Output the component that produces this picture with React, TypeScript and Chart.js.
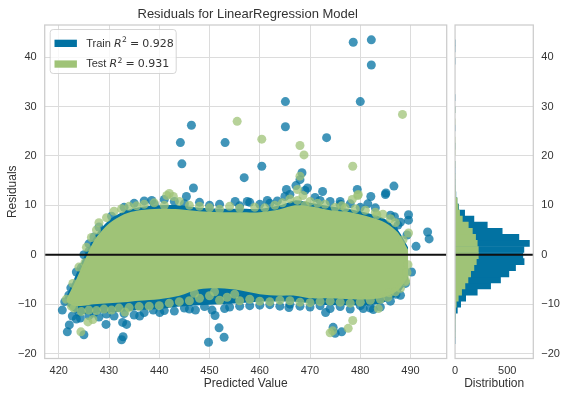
import React, { useEffect, useRef } from 'react';
import { Chart, registerables } from 'chart.js';

Chart.register(...registerables);

// ---------- text ----------
const TITLE = 'Residuals for LinearRegression Model';
const X_LABEL = 'Predicted Value';
const Y_LABEL = 'Residuals';
const HIST_LABEL = 'Distribution';
const TRAIN_LABEL = 'Train';
const TEST_LABEL = 'Test';
const TRAIN_R2 = '0.928';
const TEST_R2 = '0.931';

// ---------- axis ranges and ticks ----------
const X_MIN = 417.2;
const X_MAX = 497.2;
const Y_MIN = -21.0;
const Y_MAX = 46.5;
const HIST_MAX = 750;
const xTicks = [420, 430, 440, 450, 460, 470, 480, 490];
const yTicks = [-20, -10, 0, 10, 20, 30, 40];
const histTicks = [0, 500];

// ---------- dense cloud envelopes ----------
const bandX = [421.5, 423, 425, 427, 430, 433, 436, 440, 444, 448, 452, 456, 460, 464, 467, 470, 474, 478, 482, 485, 487.5, 489.5];
const trainUpper = [-8.5, -5.0, -0.5, 3.5, 7.0, 8.8, 9.6, 10.0, 10.0, 9.5, 9.3, 9.3, 9.3, 10.0, 11.0, 10.5, 9.8, 9.2, 8.3, 7.2, 5.0, 1.5];
const trainLower = [-10.0, -11.5, -12.0, -11.8, -11.7, -11.5, -11.2, -11.0, -10.5, -10.2, -10.0, -9.8, -9.5, -9.5, -9.5, -9.8, -10.2, -10.2, -10.2, -9.5, -8.0, -5.0];
const testUpper = [-9.0, -6.0, -1.5, 2.8, 6.3, 8.2, 9.0, 9.3, 9.2, 8.8, 8.6, 8.6, 8.6, 9.2, 10.0, 9.8, 9.0, 8.6, 7.6, 6.5, 4.5, 1.0];
const testLower = [-9.5, -10.3, -10.3, -10.0, -9.8, -9.6, -9.3, -9.0, -8.3, -7.0, -6.8, -7.2, -8.0, -8.3, -8.3, -8.8, -8.8, -9.0, -9.0, -8.5, -7.2, -4.5];

// ---------- individual points (predicted value, residual) ----------
const trainPoints: [number, number][] = [
  [478.6, 43.0], [482.2, 43.5], [482.2, 38.4], [465.1, 31.0], [480.0, 31.0], [465.1, 25.9], [473.3, 23.7],
  [446.4, 26.2], [444.2, 22.7], [453.1, 22.7], [444.5, 18.4], [446.8, 13.5], [456.9, 15.6], [460.4, 17.9],
  [472.5, 12.8], [468.4, 16.6], [468.0, 15.2], [467.2, 14.0], [469.5, 13.5], [479.4, 13.2], [482.1, 11.8],
  [485.0, 12.2], [486.7, 13.9], [489.6, 8.1], [489.6, 7.0], [493.4, 4.6], [493.7, 3.2], [491.1, 1.7],
  [486.8, 7.7], [486.6, 5.1], [445.4, 11.8], [438.5, 11.0], [455.1, 10.8], [465.3, 13.2], [476.0, 10.8], [485.1, 12.5],
  [435, 10.4], [437, 10.9], [441, 11.2], [448, 10.6], [452, 10.2], [458, 10.6], [462, 10.4], [466, 12.2],
  [471, 11.6], [474, 10.8], [478, 10.3], [483, 9.5], [488, 6.6], [430.5, 7.8], [428, 5.6], [426, 2.2],
  [433, 9.6], [439, 10.2], [443, 10.8], [445, 10.3], [450, 10.0], [456, 9.9], [457.5, 10.8], [460, 10.2],
  [461.5, 11.0], [463.5, 10.9], [465, 11.8], [469, 13.0], [472, 11.0], [476, 10.2], [480, 9.6], [481.5, 10.3],
  [486, 8.0], [487.5, 6.0], [489.3, 4.0], [429, 4.8], [427, 3.6], [425, 0.0], [423.5, -3.5],
  [420.7, -11.2], [421.7, -15.6], [422.1, -14.2], [422.7, -12.4], [425.0, -16.2], [429.4, -14.1], [432.7, -13.7],
  [433.5, -14.1], [432.8, -16.6], [432.5, -17.2], [436.1, -12.4], [440.1, -11.7], [438.8, -11.2], [449.8, -17.7],
  [451.1, -12.3], [451.9, -14.8], [452.9, -16.7], [447.2, -11.2], [465.8, -10.7], [470.3, -9.4], [473.1, -11.7],
  [474.6, -14.7], [476.3, -15.6], [475.0, -15.9], [480.6, -10.9], [482.6, -11.1], [487.1, -8.0], [422.4, -6.7],
  [424.5, -2.6], [426.0, 0.7], [424.3, -12.8], [423.5, -13.0],
  [426, -12.3], [428, -12.6], [431, -12.4], [435, -12.2], [443, -11.4], [446, -11.0], [454, -10.6], [458, -10.3],
  [462, -10.1], [468, -10.4], [478, -11.0], [484, -10.6], [489, -5.8], [490.2, -3.5],
  [424, -11.6], [427, -11.8], [429.5, -12.0], [433, -11.9], [437, -11.7], [441, -11.3], [445, -10.8], [449, -10.5],
  [450.5, -11.2], [453, -10.9], [456, -10.4], [460, -10.2], [464, -10.4], [466, -10.0], [470, -10.6], [472, -10.3],
  [474, -10.9], [476, -10.5], [480, -10.3], [482, -10.8], [486, -9.4], [488, -8.2], [421.2, -9.5], [422, -8.2],
];
const testPoints: [number, number][] = [
  [488.4, 28.4], [468.0, 22.1], [468.8, 20.2], [455.5, 27.0], [460.4, 23.4], [478.5, 17.9], [479.5, 12.0],
  [478.4, 11.2], [441.5, 12.0], [442.8, 11.8], [442.0, 12.4], [476.3, 9.9], [479.6, 12.2], [489.6, 4.4],
  [489.3, -3.6], [489.0, -5.2], [485.8, -7.7], [483.6, -10.9], [478.5, -13.3], [477.6, -14.9], [474.0, -15.8],
  [474.5, -15.4], [424.4, -15.6], [425.8, -13.6], [426.8, -13.1], [421.5, -9.0], [422.5, -10.4], [433.2, -11.6],
  [425.2, -1.6], [468.0, 15.9], [483.3, 8.1], [467.5, 13.2], [468.6, 12.0],
  [431, 8.8], [434, 9.8], [437, 10.2], [439, 10.5], [446, 10.0], [450, 9.5], [454, 9.8], [459, 9.6], [463, 10.0],
  [466, 11.3], [470, 10.8], [473, 10.2], [477, 9.5], [481, 9.0], [484.5, 8.2], [487, 6.5], [488.5, 3.0], [428, 6.5], [426.5, 3.5],
  [432.5, 9.3], [435.5, 9.9], [441, 10.0], [444, 10.8], [448, 9.8], [452, 9.2], [456, 9.4], [461, 9.5],
  [464.5, 10.5], [467.5, 11.0], [469, 10.0], [471.5, 10.4], [475, 9.6], [479, 9.3], [483, 8.6], [486, 7.3],
  [429.5, 7.5], [427.5, 5.0], [425.5, 1.5], [424, -2.5], [422.8, -5.8],
  [423, -10.8], [426, -11.2], [429, -11.0], [432, -10.8], [436, -10.5], [440, -10.3], [444, -9.5], [448, -8.8],
  [452, -9.2], [456, -9.3], [460, -9.4], [464, -9.2], [468, -9.6], [472, -9.5], [476, -9.6], [480, -9.6],
  [484, -9.0], [487, -7.5], [489, -5.5], [451, -7.5], [447, -7.8], [455, -8.0],
  [424.5, -11.5], [427.5, -11.3], [430.5, -11.2], [434, -10.7], [438, -10.4], [442, -9.8], [446, -9.3], [450, -8.3],
  [453.5, -8.6], [458, -9.0], [462, -9.5], [466, -9.3], [470, -9.7], [474, -9.4], [478, -9.8], [482, -9.2],
  [485.5, -8.6], [488, -6.8], [489.5, -2.0],
];

// ---------- histogram (bin centres, counts) ----------
const binCenters = [
  -17.39, -16.16, -14.93, -13.70, -12.47, -11.24, -10.01, -8.78, -7.55, -6.32,
  -5.09, -3.86, -2.63, -1.40, -0.17, 1.06, 2.29, 3.52, 4.75, 5.98,
  7.21, 8.44, 9.67, 10.90, 12.13, 13.36, 14.59, 15.82, 17.05, 18.28,
  19.51, 20.74, 21.97, 23.20, 24.43, 25.66, 26.89, 28.12, 29.35, 30.58,
  31.81, 33.04, 34.27, 35.50, 36.73, 37.96, 39.19, 40.42, 41.65, 42.88,
];
const trainCounts = [
  2, 2, 3, 3, 6, 22, 54, 102, 213, 341,
  436, 516, 580, 662, 650, 660, 713, 612, 452, 309,
  181, 92, 35, 18, 8, 4, 2, 1, 1, 1,
  0, 0, 1, 0, 0, 1, 0, 0, 1, 0,
  1, 0, 0, 0, 0, 0, 1, 0, 1, 2,
];
const testCounts = [
  0, 1, 1, 2, 2, 4, 12, 31, 63, 95,
  124, 150, 181, 204, 223, 223, 213, 197, 166, 127,
  70, 44, 30, 20, 6, 3, 1, 1, 0, 1,
  0, 1, 1, 1, 0, 0, 1, 0, 1, 0,
  0, 0, 0, 0, 0, 0, 0, 0, 0, 0,
];

// ---------- style ----------
const BLUE = '#0272a2';
const GREEN = '#9fc377';
const BLUE_A = 'rgba(2,114,162,0.75)';
const GREEN_A = 'rgba(159,195,119,0.75)';
const GRID = '#dcdcdc';
const SPINE = '#cccccc';
const TEXT = '#333333';
const FONT = '"Liberation Sans", Arial, sans-serif';
const MATH = '"DejaVu Sans", sans-serif';

const fmt = (v: number) => (v < 0 ? '\u2212' + Math.abs(v) : String(v));
const fixedTicks = (vals: number[]) => (s: any) => {
  s.ticks = vals.map((value) => ({ value }));
};

const frameZero = {
  id: 'frameZero',
  afterDatasetsDraw(chart: any) {
    const { ctx, chartArea, scales } = chart;
    const { left, right, top, bottom } = chartArea;
    const y0 = scales.y.getPixelForValue(0);
    ctx.save();
    ctx.strokeStyle = '#111111';
    ctx.lineWidth = 2;
    ctx.beginPath();
    ctx.moveTo(left, y0);
    ctx.lineTo(right, y0);
    ctx.stroke();
    ctx.strokeStyle = SPINE;
    ctx.lineWidth = 1.25;
    ctx.strokeRect(left, top, right - left, bottom - top);
    ctx.restore();
  },
};

const titleLegend = {
  id: 'titleLegend',
  afterDraw(chart: any) {
    const { ctx, chartArea } = chart;
    ctx.save();
    ctx.fillStyle = TEXT;
    ctx.font = `13px ${FONT}`;
    ctx.textAlign = 'center';
    ctx.textBaseline = 'alphabetic';
    ctx.fillText(TITLE, (chartArea.left + chartArea.right) / 2 + 2, 17.5);

    const bx = chartArea.left + 5.5, by = chartArea.top + 4.5, bw = 126, bh = 44;
    ctx.beginPath();
    const r = 3;
    ctx.moveTo(bx + r, by);
    ctx.arcTo(bx + bw, by, bx + bw, by + bh, r);
    ctx.arcTo(bx + bw, by + bh, bx, by + bh, r);
    ctx.arcTo(bx, by + bh, bx, by, r);
    ctx.arcTo(bx, by, bx + bw, by, r);
    ctx.closePath();
    ctx.fillStyle = 'rgba(255,255,255,0.8)';
    ctx.fill();
    ctx.strokeStyle = 'rgba(204,204,204,0.8)';
    ctx.lineWidth = 1;
    ctx.stroke();

    const entries: [string, string, string, number][] = [
      [TRAIN_LABEL, TRAIN_R2, BLUE, by + 17],
      [TEST_LABEL, TEST_R2, GREEN, by + 37.7],
    ];
    ctx.textAlign = 'left';
    for (const [label, r2, color, base] of entries) {
      ctx.fillStyle = color;
      ctx.fillRect(bx + 4.3, base - 6.8, 22.4, 7.3);
      ctx.fillStyle = TEXT;
      let x = bx + 36;
      ctx.font = `11px ${FONT}`;
      ctx.fillText(label + ' ', x, base);
      x += ctx.measureText(label + ' ').width;
      ctx.font = `italic 11px ${MATH}`;
      ctx.fillText('R', x, base);
      x += ctx.measureText('R').width + 0.5;
      ctx.font = `7.7px ${MATH}`;
      ctx.fillText('2', x, base - 4.6);
      x += ctx.measureText('2').width + 3;
      ctx.font = `11px ${MATH}`;
      ctx.fillText('=', x, base);
      x += ctx.measureText('=').width + 3;
      ctx.fillText(r2, x, base);
    }
    ctx.restore();
  },
};

const tickFont = { family: FONT, size: 11 };
const labelFont = { family: FONT, size: 12 };

function mainConfig(): any {
  const pts = (a: [number, number][]) => a.map(([x, y]) => ({ x, y }));
  const band = (ys: number[]) => bandX.map((x, i) => ({ x, y: ys[i] }));
  const bandStyle = (color: string) => ({ borderColor: color, backgroundColor: color, borderWidth: 0, pointRadius: 0, tension: 0.3 });
  return {
    type: 'scatter',
    data: {
      datasets: [
        { type: 'scatter', label: 'test points', data: pts(testPoints), backgroundColor: GREEN_A, pointRadius: 4.5, pointBorderWidth: 0, order: 1 },
        { type: 'line', label: 'test upper', data: band(testUpper), ...bandStyle(GREEN), fill: '+1', order: 2 },
        { type: 'line', label: 'test lower', data: band(testLower), ...bandStyle(GREEN), fill: false, order: 2 },
        { type: 'scatter', label: 'train points', data: pts(trainPoints), backgroundColor: BLUE_A, pointRadius: 4.5, pointBorderWidth: 0, order: 3 },
        { type: 'line', label: 'train upper', data: band(trainUpper), ...bandStyle(BLUE), fill: '+1', order: 4 },
        { type: 'line', label: 'train lower', data: band(trainLower), ...bandStyle(BLUE), fill: false, order: 4 },
      ],
    },
    options: {
      responsive: false,
      animation: false,
      events: [],
      layout: { padding: { left: 0, right: 5.3, top: 25, bottom: 0 } },
      plugins: { legend: { display: false }, tooltip: { enabled: false }, title: { display: false } },
      scales: {
        x: {
          type: 'linear', min: X_MIN, max: X_MAX,
          afterBuildTicks: fixedTicks(xTicks),
          ticks: { color: TEXT, font: tickFont, padding: 6, maxRotation: 0, autoSkip: false, callback: (v: number) => fmt(v) },
          grid: { color: GRID, lineWidth: 1, drawTicks: false },
          border: { display: false },
          title: { display: true, text: X_LABEL, color: TEXT, font: labelFont, padding: { top: 0, bottom: 6 } },
          afterFit: (s: any) => { s.height = 38.5; },
        },
        y: {
          type: 'linear', min: Y_MIN, max: Y_MAX,
          afterBuildTicks: fixedTicks(yTicks),
          ticks: { color: TEXT, font: tickFont, padding: 8, autoSkip: false, callback: (v: number) => fmt(v) },
          grid: { color: GRID, lineWidth: 1, drawTicks: false },
          border: { display: false },
          title: { display: true, text: Y_LABEL, color: TEXT, font: labelFont, padding: { top: 5, bottom: 0 } },
          afterFit: (s: any) => { s.width = 44.7; },
        },
      },
    },
    plugins: [frameZero, titleLegend],
  };
}

function histConfig(): any {
  const toBars = (counts: number[]) =>
    binCenters.map((c, i) => ({ x: counts[i], y: c })).filter((d) => d.x > 0);
  return {
    type: 'bar',
    data: {
      datasets: [
        { label: TEST_LABEL, data: toBars(testCounts), backgroundColor: GREEN, order: 1 },
        { label: TRAIN_LABEL, data: toBars(trainCounts), backgroundColor: BLUE, order: 2 },
      ],
    },
    options: {
      indexAxis: 'y',
      responsive: false,
      animation: false,
      events: [],
      datasets: { bar: { barPercentage: 1, categoryPercentage: 1, grouped: false, borderWidth: 0, inflateAmount: 0.3 } },
      layout: { padding: { left: 8.7, right: 0, top: 25, bottom: 0 } },
      plugins: { legend: { display: false }, tooltip: { enabled: false }, title: { display: false } },
      scales: {
        x: {
          type: 'linear', min: 0, max: HIST_MAX, offset: false,
          afterBuildTicks: fixedTicks(histTicks),
          ticks: { color: TEXT, font: tickFont, padding: 6, maxRotation: 0, autoSkip: false },
          grid: { display: false, drawTicks: false, offset: false },
          border: { display: false },
          title: { display: true, text: HIST_LABEL, color: TEXT, font: labelFont, padding: { top: 0, bottom: 6 } },
          afterFit: (s: any) => { s.height = 38.5; },
        },
        y: {
          type: 'linear', position: 'right', min: Y_MIN, max: Y_MAX, offset: false,
          afterBuildTicks: fixedTicks(yTicks),
          ticks: { color: TEXT, font: tickFont, padding: 8, autoSkip: false, callback: (v: number) => fmt(v) },
          grid: { color: GRID, lineWidth: 1, drawTicks: false, offset: false },
          border: { display: false },
          afterFit: (s: any) => { s.width = 41.7; },
        },
      },
    },
    plugins: [frameZero],
  };
}

export default function App() {
  const mainRef = useRef<HTMLCanvasElement>(null);
  const histRef = useRef<HTMLCanvasElement>(null);
  useEffect(() => {
    const c1 = new Chart(mainRef.current as HTMLCanvasElement, mainConfig());
    const c2 = new Chart(histRef.current as HTMLCanvasElement, histConfig());
    return () => {
      c1.destroy();
      c2.destroy();
    };
  }, []);
  return (
    <div style={{ position: 'fixed', left: 0, top: 0, width: 575, height: 397, background: '#ffffff' }}>
      <canvas ref={mainRef} width={452} height={397} style={{ position: 'absolute', left: 0, top: 0 }} />
      <canvas ref={histRef} width={129} height={397} style={{ position: 'absolute', left: 446, top: 0 }} />
    </div>
  );
}
